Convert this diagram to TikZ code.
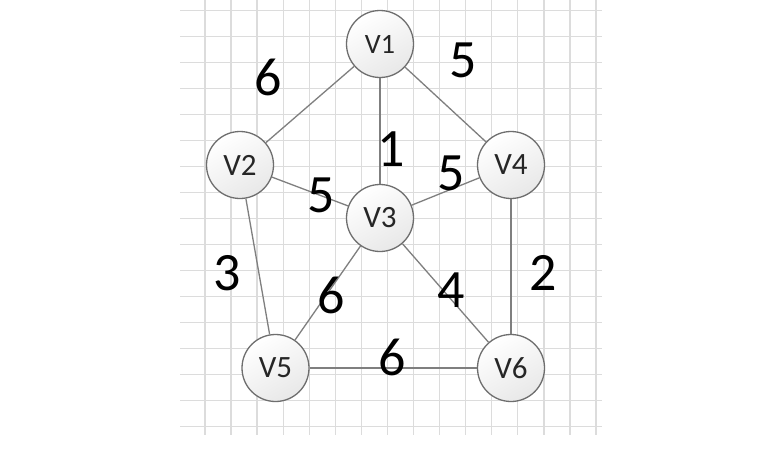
\documentclass[tikz,border=0pt]{standalone}
\usepackage{fontspec}
\setmainfont{Carlito}
\definecolor{gridc}{HTML}{DCDCDC}
\definecolor{edgec}{HTML}{7F7F7F}
\definecolor{borderc}{HTML}{6E6E6E}
\tikzset{
  vert/.style={circle, draw=borderc, line width=1.3pt, minimum size=67pt, inner sep=0pt,
    top color=white, bottom color=black!9, shading angle=30,
    font=\fontsize{31}{31}\selectfont, text=black!85},
  edge/.style={draw=edgec, line width=1.3pt},
  wlabel/.style={font=\fontsize{54}{54}\selectfont, inner sep=0pt, text=black},
  gridline/.style={draw=gridc, line width=1.3pt}
}
\begin{document}
\begin{tikzpicture}[x=1pt,y=-1pt]
\useasboundingbox (0,0) rectangle (757,463);
\fill[white] (0,0) rectangle (757,463);
% grid
\foreach \k in {0,...,16} {\draw[gridline] (180,{10.7+26*\k}) -- (602,{10.7+26*\k});}
\foreach \k in {0,...,15} {\draw[gridline] ({205+26.07*\k},0) -- ({205+26.07*\k},435);}
% nodes
\node[vert, font=\fontsize{28}{28}\selectfont] (v1) at (380,44) {V1};
\node[vert] (v2) at (240,165) {V2};
\node[vert] (v3) at (380,218) {V3};
\node[vert] (v4) at (511,165) {V4};
\node[vert] (v5) at (275.5,368) {V5};
\node[vert] (v6) at (511,368) {V6};
% edges
\draw[edge] (v1) -- (v2);
\draw[edge] (v1) -- (v3);
\draw[edge] (v1) -- (v4);
\draw[edge] (v2) -- (v3);
\draw[edge] (v3) -- (v4);
\draw[edge] (v2) -- (v5);
\draw[edge] (v3) -- (v5);
\draw[edge] (v3) -- (v6);
\draw[edge] (v4) -- (v6);
\draw[edge] (v5) -- (v6);
% weights
\node[wlabel] (w12) at (268,77) {6};
\node[wlabel] (w14) at (463,60) {5};
\node[wlabel] (w13) at (391,149) {1};
\node[wlabel] (w23) at (321,195) {5};
\node[wlabel] (w34) at (451,173) {5};
\node[wlabel] (w25) at (227,273) {3};
\node[wlabel] (w46) at (543,273) {2};
\node[wlabel] (w35) at (331,295) {6};
\node[wlabel] (w36) at (451,290) {4};
\node[wlabel] (w56) at (392,357) {6};
\end{tikzpicture}
\end{document}
